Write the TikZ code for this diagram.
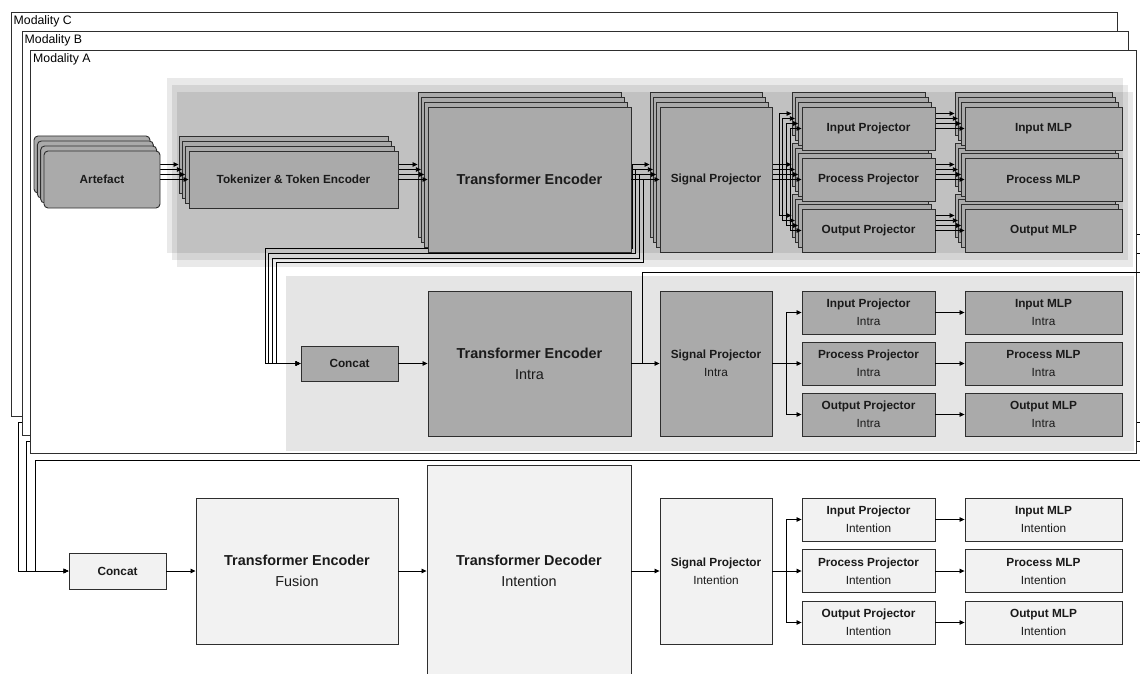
\documentclass[tikz,border=0pt]{standalone}
\usepackage{fontspec}
\setmainfont{Liberation Sans}
\usetikzlibrary{arrows.meta}
\definecolor{bordc}{HTML}{2E2E2E}
\definecolor{boxg}{HTML}{AAAAAA}
\definecolor{lightb}{HTML}{F2F2F2}
\definecolor{intrab}{HTML}{E5E5E5}
\definecolor{txtc}{HTML}{1A1A1A}
\tikzset{
 blk/.style={draw=bordc, line width=0.9pt, fill=boxg, inner sep=0pt, text=txtc, align=center},
 lblk/.style={blk, fill=lightb},
 fsm/.style={font=\fontsize{11.8}{18}\selectfont},
 fbig/.style={font=\fontsize{14.4}{21}\selectfont},
 frame/.style={draw=bordc, line width=0.8pt, fill=white},
 flabel/.style={anchor=base west, inner sep=0pt, font=\fontsize{12.3}{14}\selectfont, text=black},
 conn/.style={draw=black, line width=0.8pt},
 arr/.style={conn, -{Triangle[length=5pt,width=4.5pt]}},
}
\newcommand{\mkbox}[7]{%
 \node[#6, minimum width={((#4)-(#2))*1pt}, minimum height={((#5)-(#3))*1pt}] (#1) at ({((#2)+(#4))/2},{((#3)+(#5))/2}) {#7};}
\newcommand{\onfront}[1]{\ifnum\i=3 #1\fi}
\begin{document}
\begin{tikzpicture}[x=1pt,y=-1pt]
\clip (0,0) rectangle (1140,674);
\fill[white] (0,0) rectangle (1140,674);

% ---------- fusion / intention row ----------
\mkbox{fcat}{69}{553}{166}{589}{lblk,fsm}{\bfseries Concat}
\mkbox{tef}{196}{498}{398}{644}{lblk,fbig}{{\bfseries Transformer Encoder}\\Fusion}
\mkbox{tdi}{427}{465}{631}{677}{lblk,fbig}{{\bfseries Transformer Decoder}\\Intention}
\mkbox{spn}{660}{498}{772}{644}{lblk,fsm}{{\bfseries Signal Projector}\\Intention}
\mkbox{ipn}{802}{498}{935}{541}{lblk,fsm}{{\bfseries Input Projector}\\Intention}
\mkbox{ppn}{802}{549.5}{935}{592.5}{lblk,fsm}{{\bfseries Process Projector}\\Intention}
\mkbox{opn}{802}{601}{935}{644}{lblk,fsm}{{\bfseries Output Projector}\\Intention}
\mkbox{imn}{965}{498}{1122}{541}{lblk,fsm}{{\bfseries Input MLP}\\Intention}
\mkbox{pmn}{965}{549.5}{1122}{592.5}{lblk,fsm}{{\bfseries Process MLP}\\Intention}
\mkbox{omn}{965}{601}{1122}{644}{lblk,fsm}{{\bfseries Output MLP}\\Intention}
\draw[arr] (fcat.east) -- (tef.west);
\draw[arr] (tef.east) -- (tdi.west);
\draw[arr] (tdi.east) -- (spn.west);
\coordinate (bn) at (786,571);
\draw[arr] (spn.east) -- (bn) |- (ipn.west);
\draw[arr] (bn) -- (ppn.west);
\draw[arr] (bn) |- (opn.west);
\draw[arr] (ipn.east) -- (imn.west);
\draw[arr] (ppn.east) -- (pmn.west);
\draw[arr] (opn.east) -- (omn.west);

% ---------- modality C ----------
\coordinate (cjun) at (623,325.5);
\draw[arr] (cjun) |- (1160,234) |- (18,422) |- (fcat.west);
\draw[frame] (11,12) rectangle (1117,416);
\node[flabel] (labc) at (13.5,24.5) {Modality C};

% ---------- modality B ----------
\coordinate (bjun) at (634,344.5);
\draw[arr] (bjun) |- (1160,253) |- (26,441) |- (fcat.west);
\draw[frame] (22,31) rectangle (1128,435);
\node[flabel] (labb) at (24.5,43.5) {Modality B};

% ---------- modality A ----------
\draw[frame] (30,50) rectangle (1136,453);
\node[flabel] (laba) at (33,62.5) {Modality A};

% shared (stacked) band
\foreach \j in {0,1,2}{
 \fill[black, fill opacity=0.085] ({167+5*\j},{78+7*\j}) rectangle ({1123+5*\j},{253+7*\j});
}
% intra band
\fill[intrab] (286,276) rectangle (1134,451);

% intra row
\mkbox{icat}{301}{346}{398}{381}{blk,fsm}{\bfseries Concat}
\mkbox{tei}{428}{291}{631}{436}{blk,fbig}{{\bfseries Transformer Encoder}\\Intra}
\mkbox{spi}{660}{291}{772}{436}{blk,fsm}{{\bfseries Signal Projector}\\Intra}
\mkbox{ipi}{802}{291}{935}{334}{blk,fsm}{{\bfseries Input Projector}\\Intra}
\mkbox{ppi}{802}{342}{935}{385}{blk,fsm}{{\bfseries Process Projector}\\Intra}
\mkbox{opi}{802}{393}{935}{436}{blk,fsm}{{\bfseries Output Projector}\\Intra}
\mkbox{imi}{965}{291}{1122}{334}{blk,fsm}{{\bfseries Input MLP}\\Intra}
\mkbox{pmi}{965}{342}{1122}{385}{blk,fsm}{{\bfseries Process MLP}\\Intra}
\mkbox{omi}{965}{393}{1122}{436}{blk,fsm}{{\bfseries Output MLP}\\Intra}
\draw[arr] (icat.east) -- (tei.west);
\coordinate (ajun) at (642,363.5);
\draw[arr] (tei.east) -- (spi.west);
\draw[arr] (ajun) |- (1160,272) |- (35,460) |- (fcat.west);
\coordinate (bi) at (786,363.5);
\draw[arr] (spi.east) -- (bi) |- (ipi.west);
\draw[arr] (bi) -- (ppi.west);
\draw[arr] (bi) |- (opi.west);
\draw[arr] (ipi.east) -- (imi.west);
\draw[arr] (ppi.east) -- (pmi.west);
\draw[arr] (opi.east) -- (omi.west);

% stacked copies
\foreach \i in {0,1,2,3}{
 \pgfmathsetmacro\dx{-10+10/3*\i}
 \pgfmathsetmacro\dy{-15+5*\i}
 \pgfmathsetmacro\xv{632+3.7*\i}
 \pgfmathsetmacro\yh{248.5+4.7*\i}
 \pgfmathsetmacro\xl{265+3.7*\i}
 \pgfmathsetmacro\xb{779+3.7*\i}
 \pgfmathsetmacro\yc{179.5+(\dy)}
 \mkbox{art\i}{44+(\dx)}{151+(\dy)}{160+(\dx)}{208+(\dy)}{blk,fsm,rounded corners=4pt}{\onfront{\bfseries Artefact}}
 \mkbox{tok\i}{189+(\dx)}{151+(\dy)}{398+(\dx)}{208+(\dy)}{blk,fsm}{\onfront{\bfseries Tokenizer \& Token Encoder}}
 \mkbox{te\i}{428+(\dx)}{107+(\dy)}{631+(\dx)}{252+(\dy)}{blk,fbig}{\onfront{\bfseries Transformer Encoder}}
 \mkbox{sp\i}{660+(\dx)}{107+(\dy)}{772+(\dx)}{252+(\dy)}{blk,fsm}{\onfront{\bfseries Signal Projector}}
 \mkbox{ip\i}{802+(\dx)}{107+(\dy)}{935+(\dx)}{150+(\dy)}{blk,fsm}{\onfront{\bfseries Input Projector}}
 \mkbox{pp\i}{802+(\dx)}{158+(\dy)}{935+(\dx)}{201+(\dy)}{blk,fsm}{\onfront{\bfseries Process Projector}}
 \mkbox{op\i}{802+(\dx)}{209+(\dy)}{935+(\dx)}{252+(\dy)}{blk,fsm}{\onfront{\bfseries Output Projector}}
 \mkbox{im\i}{965+(\dx)}{107+(\dy)}{1122+(\dx)}{150+(\dy)}{blk,fsm}{\onfront{\bfseries Input MLP}}
 \mkbox{pm\i}{965+(\dx)}{158+(\dy)}{1122+(\dx)}{201+(\dy)}{blk,fsm}{\onfront{\bfseries Process MLP}}
 \mkbox{om\i}{965+(\dx)}{209+(\dy)}{1122+(\dx)}{252+(\dy)}{blk,fsm}{\onfront{\bfseries Output MLP}}
 \draw[arr] (art\i.east) -- (tok\i.west);
 \draw[arr] (tok\i.east) -- (te\i.west);
 \draw[arr] (te\i.east) -- (sp\i.west);
 \draw[arr] (te\i.east) -| (\xv,\yh) -- (\xl,\yh) |- (icat.west);
 \coordinate (br\i) at (\xb,\yc);
 \draw[arr] (sp\i.east) -- (br\i) |- (ip\i.west);
 \draw[arr] (br\i) -- (pp\i.west);
 \draw[arr] (br\i) |- (op\i.west);
 \draw[arr] (ip\i.east) -- (im\i.west);
 \draw[arr] (pp\i.east) -- (pm\i.west);
 \draw[arr] (op\i.east) -- (om\i.west);
}
\end{tikzpicture}
\end{document}
